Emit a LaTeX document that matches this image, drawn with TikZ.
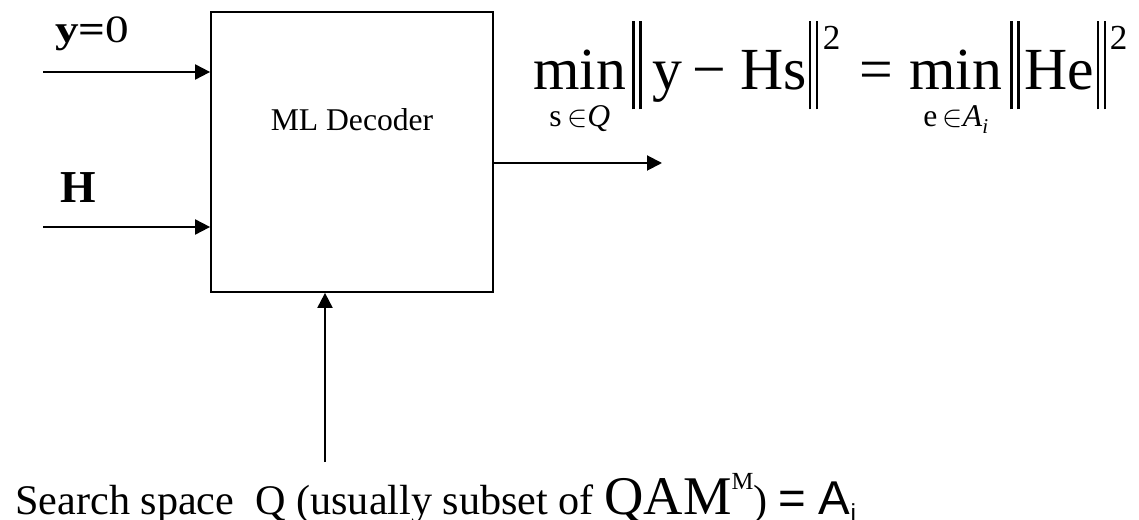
\documentclass[tikz,border=0pt]{standalone}
\usepackage{amsmath}
\usepackage{fontspec}
\setmainfont{Liberation Serif}
\setsansfont{Liberation Sans}
\usepackage{tikz}
\usetikzlibrary{positioning, arrows.meta, calc}

% norm bars and min with the set written under it
\newcommand{\nbar}{\rule[-11pt]{1.4pt}{50pt}\hspace{2.6pt}\rule[-11pt]{1.4pt}{50pt}}
\newcommand{\sqr}{\raisebox{23pt}{\fontsize{20}{22}\selectfont 2}}
\newcommand{\minover}[1]{\vtop{\baselineskip=21pt\halign{\hfil##\hfil\cr min\cr{\fontsize{18}{20}\selectfont #1}\cr}}}

\begin{document}
\begin{tikzpicture}[
    decbox/.style={draw, rectangle, line width=1pt, minimum width=5.64cm, minimum height=5.6cm, inner sep=0pt},
    sig/.style={-{Triangle[length=0.3cm, width=0.3cm]}, line width=1.1pt},
    lbl/.style={anchor=base west, inner sep=0pt}
  ]
  \useasboundingbox (0,0) rectangle (22.78,-10.4);

  % Decoder block
  \node[decbox] (dec) at (7.04, -3.04) {};
  \node[anchor=base, inner sep=0pt, font=\fontsize{18}{22}\selectfont] (declabel) at ([yshift=-2.38cm]dec.north) {ML Decoder};

  % Inputs
  \coordinate (yin) at (0.86, -1.44);
  \coordinate (hin) at (0.86, -4.54);
  \draw[sig] (yin) -- (yin -| dec.west);
  \draw[sig] (hin) -- (hin -| dec.west);
  \node[lbl, font=\fontsize{22}{26}\selectfont] (ylabel) at (1.10, -0.86) {\scalebox{1.22}[1]{\textbf{y=}0}};
  \node[lbl, font=\fontsize{26}{30}\selectfont] (hlabel) at (1.20, -4.06) {\textbf{H}};

  % Output
  \coordinate (out) at (13.24, -3.26);
  \draw[sig] (out -| dec.east) -- (out);
  \node[lbl, font=\fontsize{34}{40}\selectfont] (crit) at (10.66, -1.80)
    {\minover{s\,$\in$\textit{Q}}\hspace{3.4pt}\nbar\hspace{6pt}y\hspace{6pt}\char"2212\hspace{8pt}Hs\hspace{1.2pt}\nbar\hspace{2.5pt}\sqr\hspace{11pt}=\hspace{9pt}\minover{e\,$\in$\textit{A}\raisebox{-4pt}{\fontsize{12}{14}\selectfont\textit{i}}}\hspace{4.5pt}\nbar\hspace{2.8pt}He\hspace{1.5pt}\nbar\hspace{2pt}\sqr};

  % Search space
  \coordinate (sin) at (6.5, -9.24);
  \draw[sig] (sin) -- (sin |- dec.south);
  \node[lbl, font=\fontsize{24}{28}\selectfont] (space) at (0.30, -10.28)
    {Search space\ \ Q (usually subset of {\fontsize{31}{36}\selectfont QAM}\raisebox{14pt}{\fontsize{14}{16}\selectfont M}) {\sffamily\fontsize{27}{30}\selectfont = A\raisebox{-4.5pt}{\fontsize{14}{16}\selectfont i}}};
\end{tikzpicture}
\end{document}
